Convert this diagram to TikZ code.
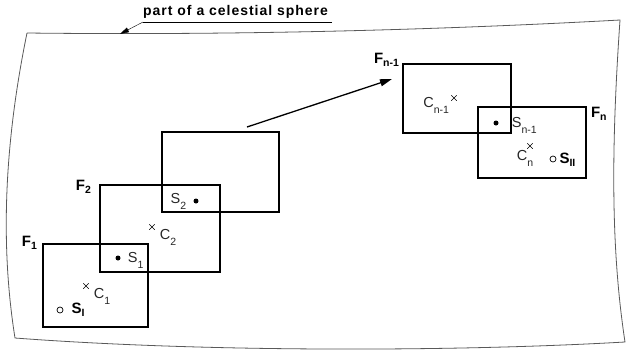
\documentclass[tikz,border=0pt]{standalone}
\usepackage{fontspec}
\setsansfont{Liberation Sans}
\usetikzlibrary{arrows.meta,positioning,shapes.misc}
\newcommand\lo[2][-6pt]{\raisebox{#1}{\fontsize{10.5}{11}\selectfont #2}}

\begin{document}
\begin{tikzpicture}[x=1pt, y=-1pt, >=Triangle,
    frame/.style={draw, line width=1.7pt, inner sep=0pt},
    flab/.style={font=\sffamily\bfseries\fontsize{15}{15}\selectfont, inner sep=0pt},
    plab/.style={font=\sffamily\fontsize{14.5}{15}\selectfont, text=black!85, inner sep=0pt},
    dot/.style={circle, fill, minimum size=5pt, inner sep=0pt},
    odot/.style={circle, draw, line width=0.7pt, minimum size=6pt, inner sep=0pt},
    ctr/.style={cross out, draw, line width=0.5pt, minimum size=5pt, inner sep=0pt}]
    \useasboundingbox (0,0) rectangle (630,360);
    % 天球的一部分
    \draw[black!65, line width=0.8pt] (27,33) .. controls (200,35) and (400,32) .. (620,20)
        .. controls (611,150) and (611,250) .. (625,342)
        .. controls (450,352) and (200,352) .. (15,338)
        .. controls (1,250) and (3,150) .. (27,33);
    % 标题与引线
    \node[font=\sffamily\bfseries\fontsize{14}{14}\selectfont\addfontfeature{LetterSpace=7},
        inner xsep=0pt, inner ysep=3pt, anchor=south west] (title) at (143,22) {part of a celestial sphere};
    \coordinate (tip) at (120,34);
    \draw (title.south east) ++(4,0) -- (title.south west);
    \draw[-{Triangle[length=9pt,width=5pt]}] (title.south west) -- (tip);
    % 视场
    \node[frame, minimum width=105, minimum height=83] (F1) at (95.5,285.5) {};
    \node[frame, minimum width=120, minimum height=87] (F2) at (160,228.5) {};
    \node[frame, minimum width=117, minimum height=80] (F3) at (220.5,172) {};
    \node[frame, minimum width=108, minimum height=69] (Fn1) at (457,98.5) {};
    \node[frame, minimum width=108, minimum height=71] (Fn) at (532,142.5) {};
    % 视场标记
    \node[flab, left=5pt of F1.north west] {F\lo[-3pt]{1}};
    \node[flab, left=8pt of F2.north west, yshift=-3pt] {F\lo[-3pt]{2}};
    \node[flab, left=3pt of Fn1.north west, yshift=3pt] {F\lo[-3pt]{n-1}};
    \node[flab, right=4pt of Fn.north east, yshift=-8pt] {F\lo[-3pt]{n}};
    % 星点
    \node[odot] (sI) at (60,310) {};
    \node[dot] (s1) at (118,258) {};
    \node[dot] (s2) at (196,201) {};
    \node[dot] (sn1) at (496,123) {};
    \node[odot] (sII) at (553,159) {};
    \node[flab, right=8pt of sI] {S\lo[-3pt]{I}};
    \node[plab, right=7pt of s1, yshift=-2pt] {S\lo{1}};
    \node[plab, left=7pt of s2] {S\lo{2}};
    \node[plab, right=13pt of sn1, yshift=-2pt] {S\lo{n-1}};
    \node[flab, right=3pt of sII, yshift=-1pt] {S\lo[-3pt]{II}};
    % 视场中心
    \node[ctr] (c1) at (86,286) {};
    \node[ctr] (c2) at (152,227) {};
    \node[ctr] (cn1) at (454,98) {};
    \node[ctr] (cn) at (530,146) {};
    \node[plab, below right=-1pt and 5pt of c1] {C\lo{1}};
    \node[plab, below right=-1pt and 5pt of c2] {C\lo{2}};
    \node[plab, below left=-4pt and 2pt of cn1] {C\lo{n-1}};
    \node[plab, below=1pt of cn, xshift=-5pt] {C\lo{n}};
    % 序列方向
    \coordinate (a0) at (247,127);
    \coordinate (a1) at (392,79);
    \draw[line width=1.3pt, -{Triangle[length=12pt,width=7pt]}] (a0) -- (a1);
\end{tikzpicture}
\end{document}
